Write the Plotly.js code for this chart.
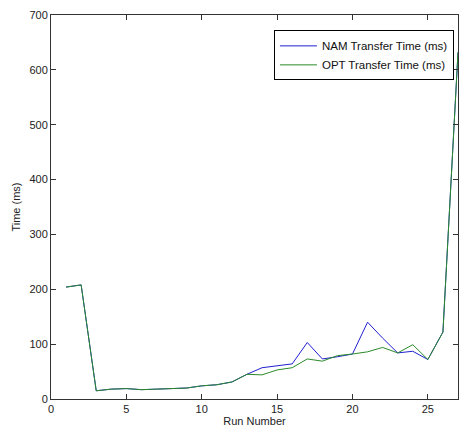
<!DOCTYPE html>
<html>
<head>
<meta charset="utf-8">
<script src="https://cdn.plot.ly/plotly-3.0.1.min.js"></script>
<style>html,body{margin:0;padding:0;background:#fff;}#chart{width:459px;height:432px;}</style>
</head>
<body>
<div id="chart"></div>
<script>
const runs = [1,2,3,4,5,6,7,8,9,10,11,12,13,14,15,16,17,18,19,20,21,22,23,24,25,26,27];
const namTimes = [204,208,15,18,19,17,18,19,20,24,26,31,45,57,61,64,103,73,77,82,140,111,84,87,72,122,632];
const optTimes = [204,208,15,18,19,17,18,19,20,24,26,31,45,44,53,57,73,69,79,82,86,94,84,99,72,122,632];
const xTicks = [0,5,10,15,20,25];
const yTicks = [0,100,200,300,400,500,600,700];

const font = {family: 'Liberation Sans, Arial, sans-serif', size: 11, color: '#222'};

Plotly.newPlot('chart', [
  {x: runs, y: namTimes, type: 'scatter', mode: 'lines', name: 'NAM Transfer Time (ms)',
   line: {color: '#2020d0', width: 1}},
  {x: runs, y: optTimes, type: 'scatter', mode: 'lines', name: 'OPT Transfer Time (ms)',
   line: {color: '#2a8a2a', width: 1}}
], {
  width: 459, height: 432,
  margin: {l: 51, r: 1, t: 15, b: 33, pad: 0},
  paper_bgcolor: '#fff', plot_bgcolor: '#fff',
  font: font,
  showlegend: true,
  legend: {x: 0.99, y: 0.96, xanchor: 'right', yanchor: 'top',
           bordercolor: '#000', borderwidth: 1, bgcolor: '#fff',
           font: {family: 'Liberation Sans, Arial, sans-serif', size: 11.5, color: '#111'},
           tracegroupgap: 0, itemwidth: 37},
  xaxis: {range: [0, 27], tickvals: xTicks, ticks: 'inside', ticklen: 5, tickcolor: '#333',
          showline: true, linecolor: '#333', linewidth: 1, mirror: 'ticks',
          showgrid: false, zeroline: false, tickfont: font,
          title: {text: 'Run Number', font: font, standoff: 2}},
  yaxis: {range: [0, 700], tickvals: yTicks, ticks: 'inside', ticklen: 5, tickcolor: '#333',
          showline: true, linecolor: '#333', linewidth: 1, mirror: 'ticks',
          showgrid: false, zeroline: false, tickfont: font,
          title: {text: 'Time (ms)', font: font, standoff: 6}}
}, {displayModeBar: false, staticPlot: true});
</script>
</body>
</html>
